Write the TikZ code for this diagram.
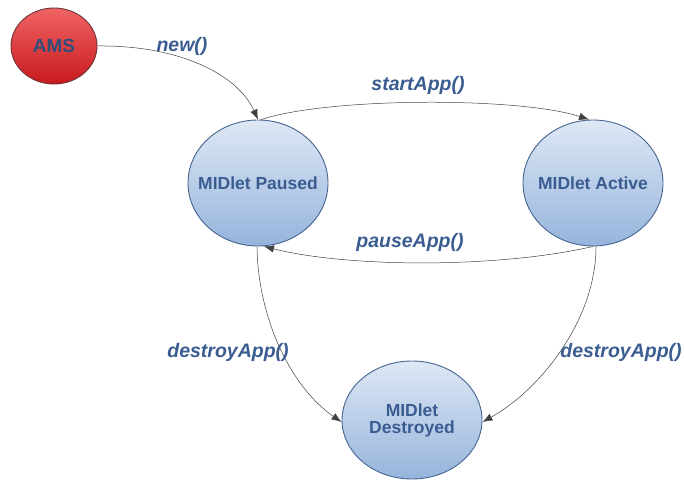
\documentclass[tikz,border=0pt]{standalone}
\usepackage{fontspec}
\setmainfont{Liberation Sans}
\usetikzlibrary{shapes.geometric,arrows.meta}
\definecolor{txtblue}{RGB}{58,92,145}
\definecolor{edgeblue}{RGB}{70,100,145}
\definecolor{stateTop}{RGB}{222,232,245}
\definecolor{stateBot}{RGB}{150,180,220}
\definecolor{amsTop}{RGB}{240,100,100}
\definecolor{amsBot}{RGB}{200,25,30}
\definecolor{amsEdge}{RGB}{110,50,55}
\tikzset{
  state/.style={ellipse, draw=edgeblue, line width=0.9pt, top color=stateTop, bottom color=stateBot,
    minimum width=140pt, minimum height=126pt, inner sep=-20pt, text=txtblue, align=center,
    font=\fontsize{17.5}{19}\selectfont\bfseries},
  start/.style={ellipse, draw=amsEdge, line width=0.9pt, top color=amsTop, bottom color=amsBot,
    minimum width=86pt, minimum height=76pt, inner sep=-10pt, text=txtblue!85!black,
    font=\fontsize{19}{21}\selectfont\bfseries},
  trans/.style={draw=black!75, line width=0.5pt, -{Latex[length=10pt,width=7.5pt]}},
  lbl/.style={text=txtblue, font=\fontsize{19.5}{21}\selectfont\bfseries\itshape, inner sep=0pt}
}
\begin{document}
\begin{tikzpicture}[x=1pt,y=-1pt]
  \useasboundingbox (0,0) rectangle (684,484);
  % states
  \node[start] (ams) at (54,46) {AMS};
  \node[state] (paused) at (258,183) {MIDlet Paused};
  \node[state] (active) at (593,183) {MIDlet Active};
  \node[state, minimum height=118pt] (destroyed) at (412,420) {MIDlet\\[-2pt]Destroyed};
  % transitions
  \draw[trans] (ams.east) .. controls (180,45) and (238,75) .. (paused.north);
  \draw[trans] ([xshift=3pt]paused.north) .. controls (330,97) and (520,97) .. ([xshift=-4pt]active.north);
  \draw[trans] (active.south) .. controls (500,268) and (350,268) .. ([xshift=6pt]paused.south);
  \draw[trans] ([xshift=-1pt]paused.south) .. controls (258,320) and (292,388) .. ([yshift=-2pt]destroyed.west);
  \draw[trans] ([xshift=3pt]active.south) .. controls (596,320) and (540,390) .. ([yshift=-2pt]destroyed.east);
  % labels
  \node[lbl] (lnew) at (182,46) {new()};
  \node[lbl] (lstart) at (418,85) {startApp()};
  \node[lbl] (lpause) at (410,242) {pauseApp()};
  \node[lbl] (ldl) at (228,352) {destroyApp()};
  \node[lbl] (ldr) at (621,352) {destroyApp()};
\end{tikzpicture}
\end{document}
